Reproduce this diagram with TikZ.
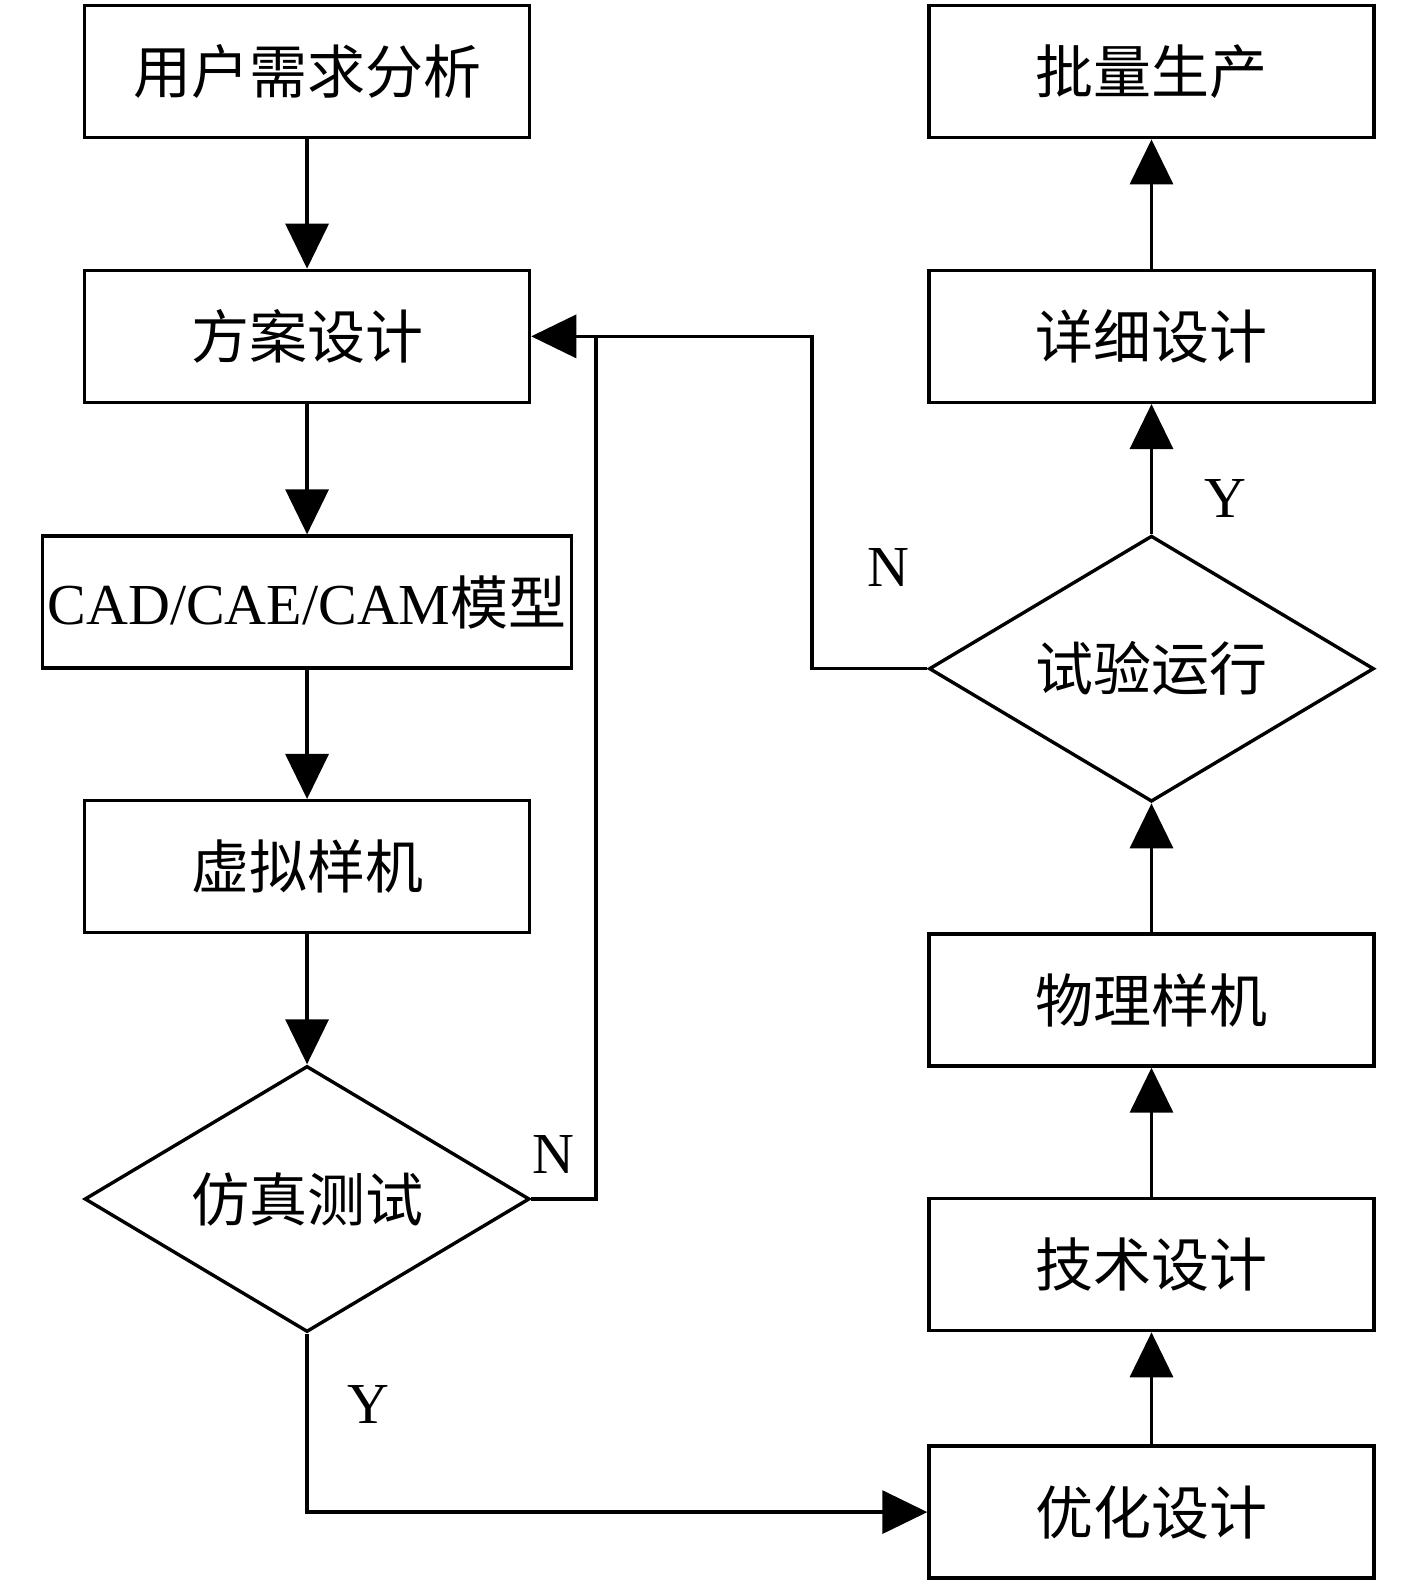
\documentclass[tikz,border=0pt]{standalone}
\usepackage{fontspec}
\setmainfont{Liberation Serif}
\newfontfamily\cjk{Noto Sans CJK SC}
\usetikzlibrary{arrows.meta,shapes.geometric}
\begin{document}
\begin{tikzpicture}[x=1.0101pt,y=-1.0101pt,
  box/.style={draw,line width=3.4pt,minimum width=445pt,minimum height=132pt,inner sep=0pt,font=\cjk\fontsize{58}{62}\selectfont},
  dia/.style={draw,line width=3.4pt,diamond,minimum width=445pt,minimum height=266pt,inner sep=0pt},
  txt/.style={font=\cjk\fontsize{58}{62}\selectfont,inner sep=0pt},
  lbl/.style={font=\fontsize{58}{62}\selectfont,inner sep=0pt},
  ln/.style={line width=3.4pt},
  arr/.style={line width=3.4pt,-{Triangle[width=43pt,length=45pt]}}]
\useasboundingbox (0,0) rectangle (1402.8,1567.2);
% left column
\node[box] (b1) at (304,71) {用户需求分析};
\node[box] (b2) at (304,333) {方案设计};
\node[box,minimum width=529pt] (b3) at (304,596) {{\fontspec{Liberation Serif}CAD/CAE/CAM}模型};
\node[box] (b4) at (304,858) {虚拟样机};
\node[dia] (d1) at (304,1187) {};
\node[txt] (d1t) at (d1) {仿真测试};
% right column
\node[box] (r1) at (1140,71) {批量生产};
\node[box] (r2) at (1140,333) {详细设计};
\node[dia] (d2) at (1140,662) {};
\node[txt] (d2t) at (d2) {试验运行};
\node[box] (r3) at (1140,990) {物理样机};
\node[box] (r4) at (1140,1252) {技术设计};
\node[box] (r5) at (1140,1497) {优化设计};
% coordinates
\coordinate (c1) at (590,1187);
\coordinate (c2) at (590,333);
\coordinate (c3) at (804,333);
\coordinate (c4) at (804,662);
% connectors
\draw[arr] (b1) -- (b2);
\draw[arr] (b2) -- (b3);
\draw[arr] (b3) -- (b4);
\draw[arr] (b4) -- (d1.north);
\draw[arr] (d1.east) -- (c1) -- (c2) -- (b2.east);
\draw[ln] (d2.west) -- (c4) -- (c3) -- (c2);
\draw[arr] (d1.south) |- (r5.west);
\draw[arr] (r5) -- (r4);
\draw[arr] (r4) -- (r3);
\draw[arr] (r3) -- (d2.south);
\draw[arr] (d2.north) -- (r2);
\draw[arr] (r2) -- (r1);
% labels
\node[lbl] (n1) at (548,1143) {N};
\node[lbl] (n2) at (880,562) {N};
\node[lbl] (y1) at (365,1390) {Y};
\node[lbl] (y2) at (1213,494) {Y};
\end{tikzpicture}
\end{document}
